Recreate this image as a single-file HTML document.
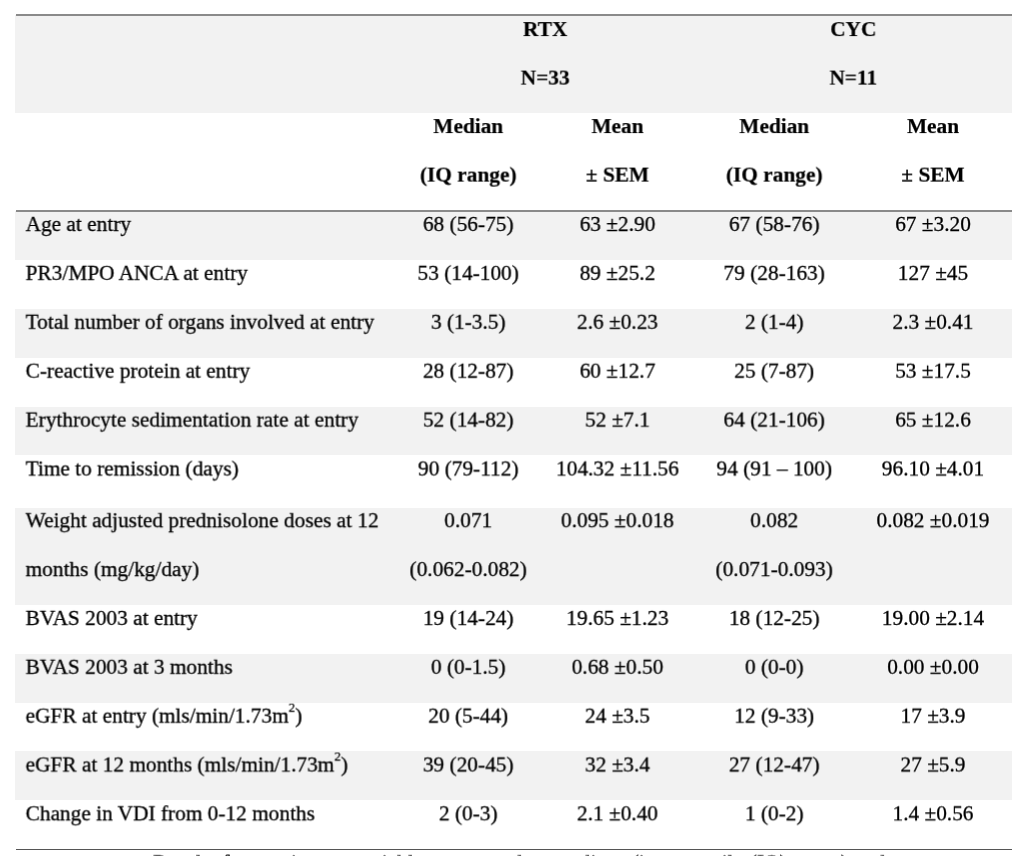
<!DOCTYPE html>
<html><head><meta charset="utf-8">
<style>
html,body{margin:0;padding:0;background:#fff;}
body{width:1024px;height:856px;overflow:hidden;position:relative;font-family:"Liberation Serif",serif;color:#000;font-size:21.33px;}
.bg{position:absolute;left:15px;width:997px;background:#f2f2f2;}
.ln{position:absolute;left:16px;width:996px;height:2px;background:#8a8a8a;}
.t{position:absolute;will-change:transform;white-space:nowrap;line-height:24px;height:24px;-webkit-text-stroke:0.3px #000;}
.c{text-align:center;width:240px;margin-left:-120px;}
.b{font-weight:bold;-webkit-text-stroke-width:0.2px;}
sup{-webkit-text-stroke-width:0.25px;font-size:13px;line-height:0;vertical-align:baseline;position:relative;top:-11px;}
</style></head><body>

<div class="bg" style="top:15px;height:97.75px"></div>
<div class="bg" style="top:211.00px;height:48.75px"></div>
<div class="bg" style="top:309.00px;height:48.75px"></div>
<div class="bg" style="top:406.90px;height:48.10px"></div>
<div class="bg" style="top:507.75px;height:97.25px"></div>
<div class="bg" style="top:654.00px;height:48.75px"></div>
<div class="bg" style="top:751.25px;height:48.75px"></div>
<div class="ln" style="top:14px"></div>
<div class="ln" style="top:210px"></div>
<div class="ln" style="top:848.5px;height:1.5px;background:#555"></div>
<div class="t c b" style="left:545px;top:17px;transform:translate(0.30px,0.10px) rotate(0.0001deg)">RTX</div>
<div class="t c b" style="left:545px;top:65px;transform:translate(0.30px,0.60px) rotate(0.0001deg)">N=33</div>
<div class="t c b" style="left:853px;top:17px;transform:translate(0.30px,0.10px) rotate(0.0001deg)">CYC</div>
<div class="t c b" style="left:853px;top:65px;transform:translate(0.30px,0.60px) rotate(0.0001deg)">N=11</div>
<div class="t c b" style="left:468px;top:114px;transform:translate(0.30px,0.10px) rotate(0.0001deg)">Median</div>
<div class="t c b" style="left:468px;top:162px;transform:translate(0.30px,0.60px) rotate(0.0001deg)">(IQ range)</div>
<div class="t c b" style="left:617px;top:114px;transform:translate(0.50px,0.10px) rotate(0.0001deg)">Mean</div>
<div class="t c b" style="left:617px;top:162px;transform:translate(0.50px,0.60px) rotate(0.0001deg)">± SEM</div>
<div class="t c b" style="left:774px;top:114px;transform:translate(0.30px,0.10px) rotate(0.0001deg)">Median</div>
<div class="t c b" style="left:774px;top:162px;transform:translate(0.30px,0.60px) rotate(0.0001deg)">(IQ range)</div>
<div class="t c b" style="left:933px;top:114px;transform:translate(0.00px,0.10px) rotate(0.0001deg)">Mean</div>
<div class="t c b" style="left:933px;top:162px;transform:translate(0.00px,0.60px) rotate(0.0001deg)">± SEM</div>
<div class="t " style="left:25px;top:212px;transform:translate(0.60px,0.00px) rotate(0.0001deg)">Age at entry</div>
<div class="t c" style="left:468px;top:212px;transform:translate(0.30px,0.00px) rotate(0.0001deg)">68 (56-75)</div>
<div class="t c" style="left:617px;top:212px;transform:translate(0.50px,0.00px) rotate(0.0001deg)">63 ±2.90</div>
<div class="t c" style="left:774px;top:212px;transform:translate(0.30px,0.00px) rotate(0.0001deg)">67 (58-76)</div>
<div class="t c" style="left:933px;top:212px;transform:translate(0.00px,0.00px) rotate(0.0001deg)">67 ±3.20</div>
<div class="t " style="left:25px;top:260px;transform:translate(0.60px,0.90px) rotate(0.0001deg)">PR3/MPO ANCA at entry</div>
<div class="t c" style="left:468px;top:260px;transform:translate(0.30px,0.90px) rotate(0.0001deg)">53 (14-100)</div>
<div class="t c" style="left:617px;top:260px;transform:translate(0.50px,0.90px) rotate(0.0001deg)">89 ±25.2</div>
<div class="t c" style="left:774px;top:260px;transform:translate(0.30px,0.90px) rotate(0.0001deg)">79 (28-163)</div>
<div class="t c" style="left:933px;top:260px;transform:translate(0.00px,0.90px) rotate(0.0001deg)">127 ±45</div>
<div class="t " style="left:25px;top:309px;transform:translate(0.60px,0.80px) rotate(0.0001deg)">Total number of organs involved at entry</div>
<div class="t c" style="left:468px;top:309px;transform:translate(0.30px,0.80px) rotate(0.0001deg)">3 (1-3.5)</div>
<div class="t c" style="left:617px;top:309px;transform:translate(0.50px,0.80px) rotate(0.0001deg)">2.6 ±0.23</div>
<div class="t c" style="left:774px;top:309px;transform:translate(0.30px,0.80px) rotate(0.0001deg)">2 (1-4)</div>
<div class="t c" style="left:933px;top:309px;transform:translate(0.00px,0.80px) rotate(0.0001deg)">2.3 ±0.41</div>
<div class="t " style="left:25px;top:358px;transform:translate(0.60px,0.70px) rotate(0.0001deg)">C-reactive protein at entry</div>
<div class="t c" style="left:468px;top:358px;transform:translate(0.30px,0.70px) rotate(0.0001deg)">28 (12-87)</div>
<div class="t c" style="left:617px;top:358px;transform:translate(0.50px,0.70px) rotate(0.0001deg)">60 ±12.7</div>
<div class="t c" style="left:774px;top:358px;transform:translate(0.30px,0.70px) rotate(0.0001deg)">25 (7-87)</div>
<div class="t c" style="left:933px;top:358px;transform:translate(0.00px,0.70px) rotate(0.0001deg)">53 ±17.5</div>
<div class="t " style="left:25px;top:407px;transform:translate(0.60px,0.60px) rotate(0.0001deg)">Erythrocyte sedimentation rate at entry</div>
<div class="t c" style="left:468px;top:407px;transform:translate(0.30px,0.60px) rotate(0.0001deg)">52 (14-82)</div>
<div class="t c" style="left:617px;top:407px;transform:translate(0.50px,0.60px) rotate(0.0001deg)">52 ±7.1</div>
<div class="t c" style="left:774px;top:407px;transform:translate(0.30px,0.60px) rotate(0.0001deg)">64 (21-106)</div>
<div class="t c" style="left:933px;top:407px;transform:translate(0.00px,0.60px) rotate(0.0001deg)">65 ±12.6</div>
<div class="t " style="left:25px;top:456px;transform:translate(0.60px,0.50px) rotate(0.0001deg)">Time to remission (days)</div>
<div class="t c" style="left:468px;top:456px;transform:translate(0.30px,0.50px) rotate(0.0001deg)">90 (79-112)</div>
<div class="t c" style="left:617px;top:456px;transform:translate(0.50px,0.50px) rotate(0.0001deg)">104.32 ±11.56</div>
<div class="t c" style="left:774px;top:456px;transform:translate(0.30px,0.50px) rotate(0.0001deg)">94 (91 – 100)</div>
<div class="t c" style="left:933px;top:456px;transform:translate(0.00px,0.50px) rotate(0.0001deg)">96.10 ±4.01</div>
<div class="t " style="left:25px;top:508px;transform:translate(0.60px,0.25px) rotate(0.0001deg)">Weight adjusted prednisolone doses at 12</div>
<div class="t c" style="left:468px;top:508px;transform:translate(0.30px,0.25px) rotate(0.0001deg)">0.071</div>
<div class="t c" style="left:617px;top:508px;transform:translate(0.50px,0.25px) rotate(0.0001deg)">0.095 ±0.018</div>
<div class="t c" style="left:774px;top:508px;transform:translate(0.30px,0.25px) rotate(0.0001deg)">0.082</div>
<div class="t c" style="left:933px;top:508px;transform:translate(0.00px,0.25px) rotate(0.0001deg)">0.082 ±0.019</div>
<div class="t " style="left:25px;top:557px;transform:translate(0.60px,0.10px) rotate(0.0001deg)">months (mg/kg/day)</div>
<div class="t c" style="left:468px;top:557px;transform:translate(0.30px,0.10px) rotate(0.0001deg)">(0.062-0.082)</div>
<div class="t c" style="left:774px;top:557px;transform:translate(0.30px,0.10px) rotate(0.0001deg)">(0.071-0.093)</div>
<div class="t " style="left:25px;top:605px;transform:translate(0.60px,0.95px) rotate(0.0001deg)">BVAS 2003 at entry</div>
<div class="t c" style="left:468px;top:605px;transform:translate(0.30px,0.95px) rotate(0.0001deg)">19 (14-24)</div>
<div class="t c" style="left:617px;top:605px;transform:translate(0.50px,0.95px) rotate(0.0001deg)">19.65 ±1.23</div>
<div class="t c" style="left:774px;top:605px;transform:translate(0.30px,0.95px) rotate(0.0001deg)">18 (12-25)</div>
<div class="t c" style="left:933px;top:605px;transform:translate(0.00px,0.95px) rotate(0.0001deg)">19.00 ±2.14</div>
<div class="t " style="left:25px;top:654px;transform:translate(0.60px,0.80px) rotate(0.0001deg)">BVAS 2003 at 3 months</div>
<div class="t c" style="left:468px;top:654px;transform:translate(0.30px,0.80px) rotate(0.0001deg)">0 (0-1.5)</div>
<div class="t c" style="left:617px;top:654px;transform:translate(0.50px,0.80px) rotate(0.0001deg)">0.68 ±0.50</div>
<div class="t c" style="left:774px;top:654px;transform:translate(0.30px,0.80px) rotate(0.0001deg)">0 (0-0)</div>
<div class="t c" style="left:933px;top:654px;transform:translate(0.00px,0.80px) rotate(0.0001deg)">0.00 ±0.00</div>
<div class="t " style="left:25px;top:703px;transform:translate(0.60px,0.65px) rotate(0.0001deg)">eGFR at entry (mls/min/1.73m<sup>2</sup>)</div>
<div class="t c" style="left:468px;top:703px;transform:translate(0.30px,0.65px) rotate(0.0001deg)">20 (5-44)</div>
<div class="t c" style="left:617px;top:703px;transform:translate(0.50px,0.65px) rotate(0.0001deg)">24 ±3.5</div>
<div class="t c" style="left:774px;top:703px;transform:translate(0.30px,0.65px) rotate(0.0001deg)">12 (9-33)</div>
<div class="t c" style="left:933px;top:703px;transform:translate(0.00px,0.65px) rotate(0.0001deg)">17 ±3.9</div>
<div class="t " style="left:25px;top:752px;transform:translate(0.60px,0.50px) rotate(0.0001deg)">eGFR at 12 months (mls/min/1.73m<sup>2</sup>)</div>
<div class="t c" style="left:468px;top:752px;transform:translate(0.30px,0.50px) rotate(0.0001deg)">39 (20-45)</div>
<div class="t c" style="left:617px;top:752px;transform:translate(0.50px,0.50px) rotate(0.0001deg)">32 ±3.4</div>
<div class="t c" style="left:774px;top:752px;transform:translate(0.30px,0.50px) rotate(0.0001deg)">27 (12-47)</div>
<div class="t c" style="left:933px;top:752px;transform:translate(0.00px,0.50px) rotate(0.0001deg)">27 ±5.9</div>
<div class="t " style="left:25px;top:801px;transform:translate(0.60px,0.35px) rotate(0.0001deg)">Change in VDI from 0-12 months</div>
<div class="t c" style="left:468px;top:801px;transform:translate(0.30px,0.35px) rotate(0.0001deg)">2 (0-3)</div>
<div class="t c" style="left:617px;top:801px;transform:translate(0.50px,0.35px) rotate(0.0001deg)">2.1 ±0.40</div>
<div class="t c" style="left:774px;top:801px;transform:translate(0.30px,0.35px) rotate(0.0001deg)">1 (0-2)</div>
<div class="t c" style="left:933px;top:801px;transform:translate(0.00px,0.35px) rotate(0.0001deg)">1.4 ±0.56</div>
<div class="t" style="left:152.6px;top:851px;word-spacing:1.45px;transform:translateY(-0.5px) rotate(0.0001deg)">Results for continuous variables expressed as medians (interquartile (IQ) range) and</div>
</body></html>
